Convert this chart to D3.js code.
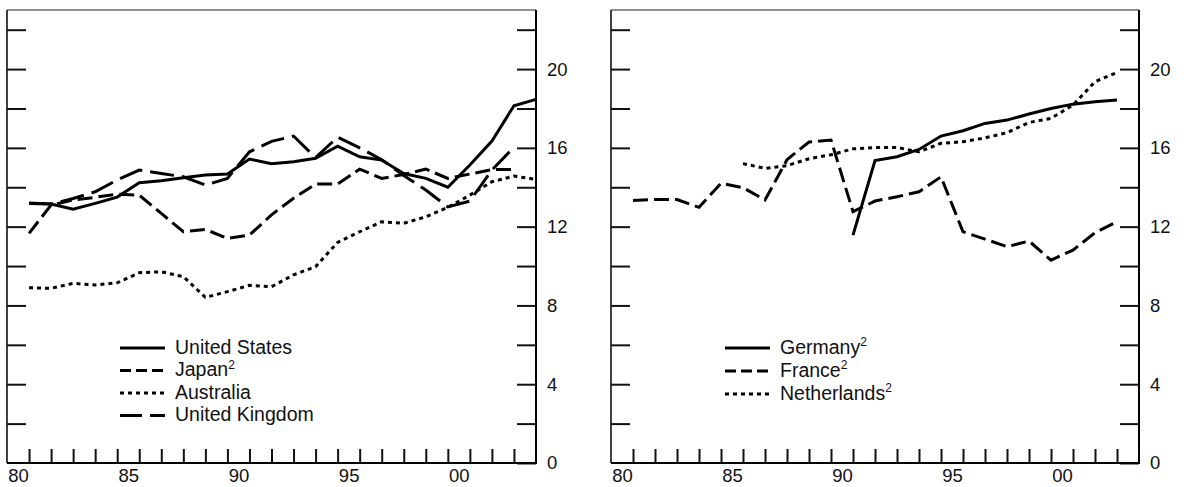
<!DOCTYPE html>
<html>
<head>
<meta charset="utf-8">
<script src="https://cdn.jsdelivr.net/npm/d3@7"></script>
<style>
  body { margin: 0; background: #fff; }
  text { font-family: "Liberation Sans", Arial, Helvetica, sans-serif; fill: #111; }
</style>
</head>
<body>
<script>
// Values are plotted at year-end positions (first point sits on the 1981 tick)
var usStart = 1981;
var usValues = [13.18, 13.15, 12.88, 13.18, 13.5, 14.23, 14.33, 14.48, 14.62, 14.67, 15.43, 15.2,
  15.3, 15.47, 16.09, 15.55, 15.38, 14.7, 14.45, 14.0, 15.13, 16.35, 18.14, 18.46];

var japanStart = 1981;
var japanValues = [11.66, 13.1, 13.35, 13.49, 13.65, 13.6, 12.67, 11.74, 11.86, 11.4, 11.57, 12.6,
  13.44, 14.16, 14.16, 14.92, 14.45, 14.65, 14.92, 14.45, 14.67, 14.9, 14.9];

var australiaStart = 1981;
var australiaValues = [8.9, 8.87, 9.12, 9.04, 9.15, 9.66, 9.71, 9.46, 8.41, 8.7, 9.02, 8.95,
  9.55, 9.97, 11.2, 11.74, 12.25, 12.17, 12.5, 12.98, 13.6, 14.28, 14.57, 14.4];

var ukStart = 1981;
var ukValues = [13.2, 13.15, 13.43, 13.77, 14.37, 14.87, 14.7, 14.53, 14.11, 14.45, 15.8, 16.33,
  16.6, 15.5, 16.55, 16.0, 15.4, 14.6, 13.86, 13.0, 13.3, 14.87, 16.04];

var germanyStart = 1991;
var germanyValues = [11.57, 15.36, 15.55, 15.92, 16.6, 16.87, 17.24, 17.41, 17.72, 18.0, 18.22, 18.34, 18.43];

var franceStart = 1981;
var franceValues = [13.33, 13.38, 13.38, 12.98, 14.2, 13.98, 13.35, 15.4, 16.3, 16.4, 12.76, 13.3,
  13.52, 13.77, 14.53, 11.74, 11.37, 10.98, 11.27, 10.3, 10.81, 11.69, 12.25];

var netherlandsStart = 1986;
var netherlandsValues = [15.2, 14.96, 15.1, 15.45, 15.65, 15.95, 16.02, 16.02, 15.8, 16.23, 16.31,
  16.51, 16.77, 17.29, 17.5, 18.17, 19.36, 19.83];

// Axis labels
var yearLabels = [1980, 1985, 1990, 1995, 2000];
var yLabelValues = [0, 4, 8, 12, 16, 20];
var yTickValues = [2, 4, 6, 8, 10, 12, 14, 16, 18, 20, 22];

// line styles
var styles = {
  solid: { data: null, legend: null },
  shortDash: { data: "15,6", legend: "11,5" },
  dotted: { data: "4,4", legend: "4,4" },
  longDash: { data: "24,8", legend: "22,8" }
};

function makeSeries(name, sup, start, values, style) {
  return {
    name: name,
    sup: sup,
    style: style,
    points: values.map(function(v, i) { return { year: start + i, value: v }; })
  };
}

var leftSeries = [
  makeSeries("United States", false, usStart, usValues, "solid"),
  makeSeries("Japan", true, japanStart, japanValues, "shortDash"),
  makeSeries("Australia", false, australiaStart, australiaValues, "dotted"),
  makeSeries("United Kingdom", false, ukStart, ukValues, "longDash")
];

var rightSeries = [
  makeSeries("Germany", true, germanyStart, germanyValues, "solid"),
  makeSeries("France", true, franceStart, franceValues, "shortDash"),
  makeSeries("Netherlands", true, netherlandsStart, netherlandsValues, "dotted")
];

var svgWidth = 1184;
var svgHeight = 487;

var svg = d3.select("body")
  .append("svg")
  .attr("width", svgWidth)
  .attr("height", svgHeight);

function drawPanel(left, right, seriesList, legend) {
  var top = 10;
  var bottom = 463;

  var xScale = d3.scaleLinear().domain([1980, 2004]).range([left, right]);
  var yScale = d3.scaleLinear().domain([0, 23]).range([bottom, top]);

  var g = svg.append("g");

  // frame: thin top and left edge
  g.append("line")
    .attr("x1", left).attr("x2", right)
    .attr("y1", top).attr("y2", top)
    .attr("stroke", "#222").attr("stroke-width", 1.2);
  g.append("line")
    .attr("x1", left).attr("x2", left)
    .attr("y1", top).attr("y2", bottom)
    .attr("stroke", "#111").attr("stroke-width", 1.6);

  // left edge ticks (no labels)
  g.append("g")
    .attr("transform", `translate(${left},0)`)
    .call(d3.axisLeft(yScale).tickValues(yTickValues).tickSize(-19).tickFormat(""))
    .call(function(a) { a.select(".domain").remove(); });

  // right axis with labels outside
  var rightAxis = g.append("g")
    .attr("transform", `translate(${right},0)`)
    .call(d3.axisRight(yScale)
      .tickValues([0].concat(yTickValues))
      .tickSize(-19)
      .tickPadding(11)
      .tickFormat(function(d) { return yLabelValues.indexOf(d) >= 0 ? d : ""; }));
  rightAxis.select(".domain").attr("stroke-width", 2).attr("d", `M0,${top}V${bottom}`);

  // bottom axis: year ticks upward
  var bottomAxis = g.append("g")
    .attr("transform", `translate(0,${bottom})`)
    .call(d3.axisBottom(xScale).tickValues(d3.range(1981, 2004)).tickSize(-14).tickFormat(""));
  bottomAxis.select(".domain").attr("stroke-width", 2).attr("d", `M${left},0H${right + 1}`);

  // year labels centred in their year
  g.append("g")
    .attr("transform", `translate(0,${bottom})`)
    .call(d3.axisBottom(xScale)
      .tickValues(yearLabels.map(function(d) { return d + 0.5; }))
      .tickSize(0)
      .tickPadding(6)
      .tickFormat(function(d) { return String(Math.floor(d) % 100).padStart(2, "0"); }))
    .call(function(a) { a.select(".domain").remove(); });

  g.selectAll(".tick line").attr("stroke", "#111").attr("stroke-width", 2);
  g.selectAll(".tick text")
    .attr("font-size", 18.5)
    .attr("fill", "#111")
    .style("font-family", "'Liberation Sans', Arial, Helvetica, sans-serif");

  var line = d3.line()
    .x(function(d) { return xScale(d.year); })
    .y(function(d) { return yScale(d.value); });

  g.selectAll(".series")
    .data(seriesList)
    .enter()
    .append("path")
    .attr("class", "series")
    .attr("d", function(d) { return line(d.points); })
    .attr("fill", "none")
    .attr("stroke", "#000")
    .attr("stroke-width", 3)
    .attr("stroke-dasharray", function(d) { return styles[d.style].data; });

  // legend
  var items = g.selectAll(".legend")
    .data(seriesList)
    .enter()
    .append("g")
    .attr("class", "legend")
    .attr("transform", function(d, i) { return `translate(${legend.x},${legend.y + i * legend.step})`; });

  items.append("line")
    .attr("x1", 0).attr("x2", 45)
    .attr("y1", 0).attr("y2", 0)
    .attr("stroke", "#000")
    .attr("stroke-width", 3)
    .attr("stroke-dasharray", function(d) { return styles[d.style].legend; });

  var label = items.append("text")
    .attr("x", 55)
    .attr("y", 5.5)
    .attr("font-size", 19.5);
  label.append("tspan").text(function(d) { return d.name; });
  label.filter(function(d) { return d.sup; })
    .append("tspan")
    .attr("font-size", 12)
    .attr("dy", -7.5)
    .text("2");
}

drawPanel(7, 536, leftSeries, { x: 120, y: 348, step: 22.5 });
drawPanel(611, 1139, rightSeries, { x: 725, y: 348, step: 23 });
</script>
</body>
</html>
